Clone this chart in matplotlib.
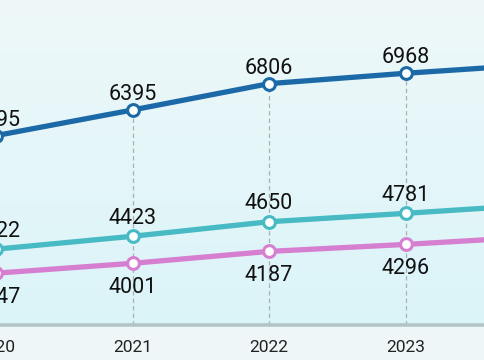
import numpy as np
import matplotlib
matplotlib.use("Agg")
import matplotlib.pyplot as plt
from matplotlib import transforms
from matplotlib.colors import LinearSegmentedColormap

years = [2020, 2021, 2022, 2023, 2024]
year_labels = ["2020", "2021", "2022", "2023", "2024"]
series_top = [5995, 6395, 6806, 6968, 7110]
series_mid = [4222, 4423, 4650, 4781, 4920]
series_low = [3847, 4001, 4187, 4296, 4420]

c_top = "#1b6aa7"
c_mid = "#47bac3"
c_low = "#d67fd1"

plt.rcParams['font.family'] = ['Roboto', 'DejaVu Sans']

fig = plt.figure(figsize=(4.85, 3.6), dpi=100)
fig.patch.set_facecolor("#eef6f8")
ax = fig.add_axes([0, (360 - 325) / 360, 1, 325 / 360])
XMIN, XMAX = 2020.029, 2023.582
ax.set_xlim(XMIN, XMAX)
ax.set_ylim(3038, 8112)
for s in ax.spines.values():
    s.set_visible(False)
ax.set_yticks([])
ax.set_xticks([])

grad = np.linspace(0, 1, 256).reshape(-1, 1)
cmap = LinearSegmentedColormap.from_list("bg", ["#eef8f9", "#dbf4f8"])
ax.imshow(grad, aspect="auto", cmap=cmap, extent=[0, 1, 0, 1], transform=ax.transAxes,
          origin="upper", zorder=0)

ax.axhline(3038, color="#b3c5c9", lw=2.6, zorder=2, clip_on=False)

for x, v in zip(years, series_top):
    ax.plot([x, x], [3038, v], color="#a9b1b5", lw=0.9, ls=(0, (3.5, 2.5)), zorder=1, clip_on=False)

for vals, col in [(series_top, c_top), (series_mid, c_mid), (series_low, c_low)]:
    ax.plot(years, vals, color=col, lw=3.8, marker="o", ms=8.5, mfc="white", mec=col, mew=2.2,
            zorder=5, clip_on=False, solid_capstyle="round")

fs = 15.5
visible = [i for i, x in enumerate(years) if XMIN - 0.3 < x < XMAX + 0.1]
for i in visible:
    ax.annotate(str(series_top[i]), (years[i], series_top[i]), xytext=(0, 7.2), textcoords="offset points",
                ha="center", va="baseline", fontsize=fs, color="#111111", annotation_clip=False)
    ax.annotate(str(series_mid[i]), (years[i], series_mid[i]), xytext=(0, 9.1), textcoords="offset points",
                ha="center", va="baseline", fontsize=fs, color="#111111", annotation_clip=False)
    ax.annotate(str(series_low[i]), (years[i], series_low[i]), xytext=(0, -21.4), textcoords="offset points",
                ha="center", va="baseline", fontsize=fs, color="#111111", annotation_clip=False)

tr = transforms.blended_transform_factory(ax.transData, ax.transAxes)
for i in visible:
    ax.text(years[i], -27 / 325, year_labels[i], transform=tr, ha="center", va="baseline",
            fontsize=12.5, color="#222222", clip_on=False)

fig.savefig("out.png", dpi=100, facecolor=fig.get_facecolor())
